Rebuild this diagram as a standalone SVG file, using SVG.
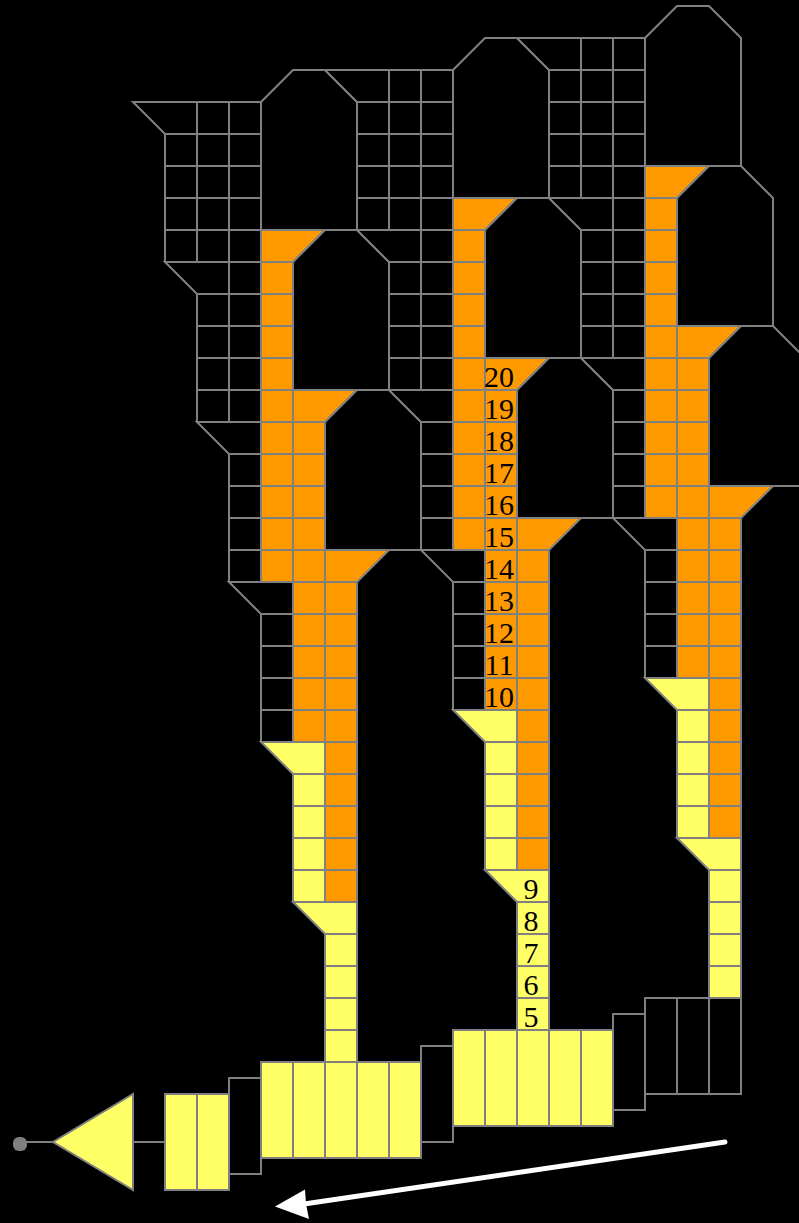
<svg xmlns="http://www.w3.org/2000/svg" xmlns:xlink="http://www.w3.org/1999/xlink" width="799" height="1223" viewBox="0 0 799 1223">
<style>
.k{fill:#000}.o{fill:#ff9900}.y{fill:#ffff66}
.s{stroke:#808080;stroke-width:2;stroke-linejoin:miter}
.w{fill:none;stroke:#808080;stroke-width:2}
text{font-family:"Liberation Serif","Times New Roman",serif;font-size:30px;fill:#000;text-anchor:middle}
</style>
<defs>
<path id="c4" class="s" d="M0 0h32v128h-32zM0 32h32M0 64h32M0 96h32"/>
<path id="c5" class="s" d="M0 0h32v160h-32zM0 32h32M0 64h32M0 96h32M0 128h32"/>
<path id="c10" class="s" d="M0 0h32v320h-32zM0 32h32M0 64h32M0 96h32M0 128h32M0 160h32M0 192h32M0 224h32M0 256h32M0 288h32"/>
<path id="ta" class="s" d="M0 0h64l-32 32h-32z"/>
<path id="tb" class="s" d="M0 0h64v32h-32z"/>
<path id="hx" class="s" d="M0 32L32 0H64L96 32V160H0z"/>
<path id="b5" class="s" d="M0 0h160v96h-160zM32 0v96M64 0v96M96 0v96M128 0v96"/>
</defs>
<rect width="799" height="1223" fill="#000"/>

<g id="stage-1">
<use href="#tb" class="k" x="133" y="102"/><use href="#c4" class="k" x="165" y="134"/>
<use href="#c5" class="k" x="197" y="102"/><use href="#tb" class="k" x="165" y="262"/><use href="#c4" class="k" x="197" y="294"/>
<use href="#c10" class="k" x="229" y="102"/><use href="#tb" class="k" x="197" y="422"/><use href="#c4" class="k" x="229" y="454"/>
<use href="#hx" class="k" x="261" y="70"/><use href="#ta" class="o" x="261" y="230"/><use href="#c10" class="o" x="261" y="262"/><use href="#tb" class="k" x="229" y="582"/><use href="#c4" class="k" x="261" y="614"/>
<use href="#hx" class="k" x="293" y="230"/><use href="#ta" class="o" x="293" y="390"/><use href="#c10" class="o" x="293" y="422"/><use href="#tb" class="y" x="261" y="742"/><use href="#c4" class="y" x="293" y="774"/>
<use href="#hx" class="k" x="325" y="390"/><use href="#ta" class="o" x="325" y="550"/><use href="#c10" class="o" x="325" y="582"/><use href="#tb" class="y" x="293" y="902"/><use href="#c4" class="y" x="325" y="934"/>
</g>

<g id="stage-2">
<use href="#tb" class="k" x="325" y="70"/><use href="#c4" class="k" x="357" y="102"/>
<use href="#c5" class="k" x="389" y="70"/><use href="#tb" class="k" x="357" y="230"/><use href="#c4" class="k" x="389" y="262"/>
<use href="#c10" class="k" x="421" y="70"/><use href="#tb" class="k" x="389" y="390"/><use href="#c4" class="k" x="421" y="422"/>
<use href="#hx" class="k" x="453" y="38"/><use href="#ta" class="o" x="453" y="198"/><use href="#c10" class="o" x="453" y="230"/><use href="#tb" class="k" x="421" y="550"/><use href="#c4" class="k" x="453" y="582"/>
<use href="#hx" class="k" x="485" y="198"/><use href="#ta" class="o" x="485" y="358"/><use href="#c10" class="o" x="485" y="390"/><use href="#tb" class="y" x="453" y="710"/><use href="#c4" class="y" x="485" y="742"/>
<use href="#hx" class="k" x="517" y="358"/><use href="#ta" class="o" x="517" y="518"/><use href="#c10" class="o" x="517" y="550"/><use href="#tb" class="y" x="485" y="870"/><use href="#c4" class="y" x="517" y="902"/>
</g>

<g id="stage-3">
<use href="#tb" class="k" x="517" y="38"/><use href="#c4" class="k" x="549" y="70"/>
<use href="#c5" class="k" x="581" y="38"/><use href="#tb" class="k" x="549" y="198"/><use href="#c4" class="k" x="581" y="230"/>
<use href="#c10" class="k" x="613" y="38"/><use href="#tb" class="k" x="581" y="358"/><use href="#c4" class="k" x="613" y="390"/>
<use href="#hx" class="k" x="645" y="6"/><use href="#ta" class="o" x="645" y="166"/><use href="#c10" class="o" x="645" y="198"/><use href="#tb" class="k" x="613" y="518"/><use href="#c4" class="k" x="645" y="550"/>
<use href="#hx" class="k" x="677" y="166"/><use href="#ta" class="o" x="677" y="326"/><use href="#c10" class="o" x="677" y="358"/><use href="#tb" class="y" x="645" y="678"/><use href="#c4" class="y" x="677" y="710"/>
<use href="#hx" class="k" x="709" y="326"/><use href="#ta" class="o" x="709" y="486"/><use href="#c10" class="o" x="709" y="518"/><use href="#tb" class="y" x="677" y="838"/><use href="#c4" class="y" x="709" y="870"/>
</g>

<g id="base-right"><path class="s k" d="M645 998h96v96h-96zM677 998v96M709 998v96"/></g>
<g id="base-spacer-3"><rect class="s k" x="613" y="1014" width="32" height="96"/></g>
<g id="base-2"><use href="#b5" class="y" x="453" y="1030"/></g>
<g id="base-spacer-2"><rect class="s k" x="421" y="1046" width="32" height="96"/></g>
<g id="base-1"><use href="#b5" class="y" x="261" y="1062"/></g>
<g id="base-spacer-1"><rect class="s k" x="229" y="1078" width="32" height="96"/></g>
<g id="final"><path class="s y" d="M165 1094h64v96h-64zM197 1094v96"/></g>
<g id="output"><path class="s y" d="M133 1094V1190L53 1142z"/></g>
<g id="terminal"><rect x="13" y="1137" width="14" height="14" rx="6" fill="#808080"/></g>

<g id="connectors">
<path class="w" d="M165 1142H133M53 1142H20"/>
<path d="M725 1142L304 1204" fill="none" stroke="#fff" stroke-width="5" stroke-linecap="round"/>
<path d="M275 1206.500L305 1189.500L306 1204L309 1219z" fill="#fff"/>
</g>

<g id="labels">
<text x="499" y="387">20</text>
<text x="499" y="419">19</text>
<text x="499" y="451">18</text>
<text x="499" y="483">17</text>
<text x="499" y="515">16</text>
<text x="499" y="547">15</text>
<text x="499" y="579">14</text>
<text x="499" y="611">13</text>
<text x="499" y="643">12</text>
<text x="499" y="675">11</text>
<text x="499" y="707">10</text>
<text x="531" y="899">9</text>
<text x="531" y="931">8</text>
<text x="531" y="963">7</text>
<text x="531" y="995">6</text>
<text x="531" y="1027">5</text>
</g>
</svg>
